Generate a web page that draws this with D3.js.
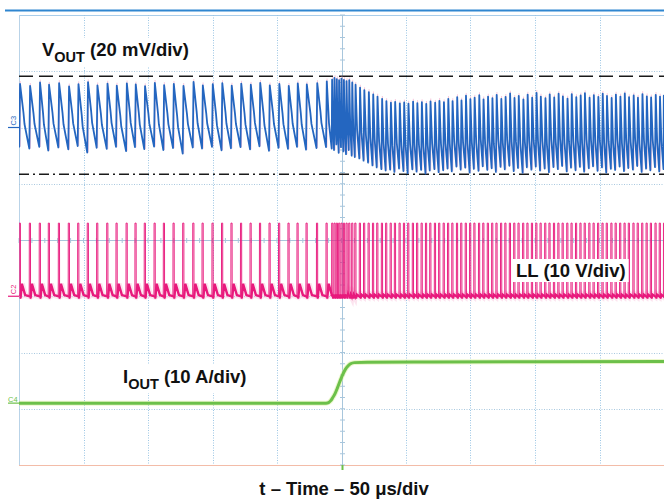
<!DOCTYPE html>
<html><head><meta charset="utf-8">
<script src="https://cdn.jsdelivr.net/npm/d3@7"></script>
<style>
html,body{margin:0;padding:0;background:#fff;}
svg{display:block;font-family:"Liberation Sans",Arial,sans-serif;}
</style></head>
<body>
<svg id="chart" width="664" height="499"></svg>
<script>
// ---------- DATA ----------
// time axis: 10 divisions x 50 us
const timeGridUs = [0, 50, 100, 150, 200, 250, 300, 350, 400, 450, 500];
// vertical axis: 8 divisions
const divGrid = [-4, -3, -2, -1, 0, 1, 2, 3, 4];

// LL switching pulses (us)
const llPulseTimes = [
  0.2, 8.0, 15.7, 22.7, 30.5, 38.2, 45.5, 52.9, 60.2, 68.0,
  75.2, 83.0, 89.9, 97.1, 104.7, 111.9, 119.4, 126.9, 134.7, 141.9,
  149.6, 157.0, 164.3, 171.7, 179.1, 186.4, 193.8, 201.2, 208.5, 215.5,
  222.5, 230.6, 238.0,
  242.4, 244.2, 246.0, 247.8, 249.6, 251.5, 253.5, 255.6, 257.9, 260.3,
  263.8, 267.1, 270.6, 274.0, 277.3, 280.9, 284.2, 287.7, 291.0, 294.6,
  298.0, 301.3, 304.9, 308.2, 311.7, 315.1, 318.4, 322.0, 325.3, 328.8,
  332.2, 335.5, 339.1, 342.4, 345.9, 349.3, 352.6, 356.2, 359.5, 363.0,
  366.4, 369.7, 373.3, 376.6, 380.1, 383.5, 386.8, 390.4, 393.7, 397.2,
  400.6, 403.9, 407.5, 410.8, 414.3, 417.7, 421.0, 424.6, 427.9, 431.4,
  434.8, 438.1, 441.7, 445.0, 448.5, 451.9, 455.2, 458.8, 462.1, 465.6,
  469.0, 472.3, 475.9, 479.2, 482.7, 486.1, 489.4, 493.0, 496.3, 499.6
];
// VOUT ripple per switching cycle (mV, relative to C3 marker)
const voutPeaks = [
  15.5, 14.8, 16.0, 15.2, 15.8, 14.6, 15.4, 16.1, 15.0, 15.6,
  14.9, 15.7, 15.3, 14.7, 15.9, 15.1, 15.5, 14.8, 16.2, 15.0,
  15.4, 15.8, 14.9, 15.6, 15.2, 15.9, 15.0, 15.5, 14.8, 15.7,
  15.3, 15.8, 16.4,
  17.0, 17.6, 17.2, 16.8, 17.4, 16.9, 16.5, 16.8, 16.0, 15.2,
  14.2, 13.3, 12.6, 11.8, 11.0, 10.2, 9.4, 8.8, 9.1, 8.6,
  8.9, 8.5, 9.2, 8.7, 9.0, 8.4, 9.3, 8.8, 9.5, 9.0,
  10.2, 9.4, 10.8, 9.6, 11.3, 10.1, 10.6, 11.5, 10.0, 11.0,
  10.4, 11.6, 10.2, 10.9, 12.1, 10.5, 11.2, 10.0, 11.7, 10.6,
  12.3, 11.0, 10.4, 11.8, 10.7, 12.0, 11.1, 10.3, 11.9, 10.8,
  11.4, 12.2, 10.6, 11.5, 10.9, 12.0, 11.2, 10.5, 11.7, 11.0,
  12.1, 10.8, 11.4, 10.6, 11.9, 11.1, 10.7, 11.6, 11.0, 11.3
];
const voutTroughs = [
  -6.8, -7.5, -6.9, -8.2, -7.1, -7.8, -6.6, -8.9, -7.2, -7.6,
  -6.9, -8.4, -7.0, -7.7, -6.8, -8.0, -7.3, -9.3, -7.1, -7.5,
  -6.9, -8.1, -7.4, -7.0, -7.8, -6.7, -8.3, -7.2, -7.6, -6.9,
  -7.9, -7.3, -7.0,
  -7.5, -8.0, -6.0, -9.0, -7.0, -8.5, -9.5, -8.0, -10.0, -10.5,
  -11.0, -11.8, -12.5, -13.5, -14.2, -14.8, -15.3, -15.0, -15.8, -14.6,
  -15.5, -16.2, -14.9, -15.7, -15.1, -16.4, -15.3, -14.8, -15.9, -15.2,
  -14.6, -15.6, -13.9, -15.0, -14.3, -16.0, -14.7, -15.4, -13.8, -15.1,
  -14.5, -15.8, -14.0, -14.9, -13.6, -15.5, -14.4, -16.1, -14.2, -15.0,
  -13.9, -15.3, -14.6, -15.9, -14.1, -14.8, -13.7, -15.6, -14.3, -15.2,
  -14.0, -15.7, -14.5, -13.8, -15.4, -14.2, -16.0, -14.7, -15.1, -13.9,
  -15.5, -14.4, -15.0, -13.7, -15.8, -14.6, -15.2, -14.1, -15.6, -14.8
];
// VOUT cursor limits (mV)
const voutLimits = [18.2, -16.6];

// LL levels (V)
const llHighV = 13;
const llRingBeforeV = 2.2;
const llRingAfterV = 0.3;
const loadStepUs = 240;

// IOUT load step (us, A)
const ioutTimes = [0, 238, 240, 241.5, 243, 245, 247, 249, 251, 253, 255, 257, 260, 270, 320, 400, 500];
const ioutAmps  = [0, 0, 0.1, 0.4, 0.9, 1.7, 2.8, 4.0, 5.1, 6.0, 6.6, 7.0, 7.2, 7.25, 7.3, 7.35, 7.4];

// channel offsets (divisions) and scales
const chVout = {name: "C3", offsetDiv: 2.0, perDiv: 20, color: "#2466c0"};
const chLL   = {name: "C2", offsetDiv: -1.0, perDiv: 10, color: "#e8197c"};
const chIout = {name: "C4", offsetDiv: -2.9, perDiv: 10, color: "#6cc04a"};

// ---------- DRAW ----------
const svg = d3.select("#chart");
const x = d3.scaleLinear().domain([0, 500]).range([19, 664]);
const y = d3.scaleLinear().domain([-4, 4]).range([465, 15]);
const yCh = (ch, v) => y(ch.offsetDiv + v / ch.perDiv);

const defs = svg.append("defs");
defs.append("clipPath").attr("id", "plot").append("rect")
  .attr("x", x(0)).attr("y", y(4)).attr("width", x(500) - x(0)).attr("height", y(-4) - y(4));

// top header line
svg.append("line").attr("x1", 5).attr("x2", 664).attr("y1", 10.5).attr("y2", 10.5)
  .attr("stroke", "#2f86d0").attr("stroke-width", 2);

const grid = svg.append("g");
grid.append("line").attr("x1", x(0)).attr("x2", x(500)).attr("y1", y(4) + 0.5).attr("y2", y(4) + 0.5)
  .attr("stroke", "#a9cdea").attr("stroke-width", 1);
grid.append("line").attr("x1", x(0) + 0.5).attr("x2", x(0) + 0.5).attr("y1", y(4)).attr("y2", y(-4))
  .attr("stroke", "#b9d3e8").attr("stroke-width", 1);
grid.append("line").attr("x1", x(0)).attr("x2", x(500)).attr("y1", y(-4) + 0.5).attr("y2", y(-4) + 0.5)
  .attr("stroke", "#f3bca8").attr("stroke-width", 1);

grid.selectAll(".vg").data(timeGridUs.filter(t => t > 0 && t < 500 && t !== 250)).enter().append("line")
  .attr("x1", d => Math.round(x(d)) + 0.5).attr("x2", d => Math.round(x(d)) + 0.5)
  .attr("y1", y(4)).attr("y2", y(-4))
  .attr("stroke", "#9cc6e4").attr("stroke-width", 1).attr("stroke-dasharray", "1,1.5");
grid.selectAll(".hg").data(divGrid.filter(d => d > -4 && d < 4 && d !== 0)).enter().append("line")
  .attr("x1", x(0)).attr("x2", x(500))
  .attr("y1", d => Math.round(y(d)) + 0.5).attr("y2", d => Math.round(y(d)) + 0.5)
  .attr("stroke", "#a9c8df").attr("stroke-width", 1).attr("stroke-dasharray", "1,1.5");

const cx = Math.round(x(250)) + 0.5, cy = Math.round(y(0)) + 0.5;
grid.append("line").attr("x1", cx).attr("x2", cx).attr("y1", y(4)).attr("y2", y(-4))
  .attr("stroke", "#a8c6dc").attr("stroke-width", 1);
grid.append("line").attr("x1", x(0)).attr("x2", x(500)).attr("y1", cy).attr("y2", cy)
  .attr("stroke", "#a8c6dc").attr("stroke-width", 1);
const minorY = d3.range(-4, 4.001, 0.2);
grid.selectAll(".ty").data(minorY).enter().append("line")
  .attr("x1", cx - 2.5).attr("x2", cx + 2.5).attr("y1", d => y(d)).attr("y2", d => y(d))
  .attr("stroke", "#a8c6dc").attr("stroke-width", 1);
const minorX = d3.range(0, 500.001, 10);
grid.selectAll(".tx").data(minorX).enter().append("line")
  .attr("x1", d => x(d)).attr("x2", d => x(d)).attr("y1", cy - 2.5).attr("y2", cy + 2.5)
  .attr("stroke", "#a8c6dc").attr("stroke-width", 1);

const plot = svg.append("g").attr("clip-path", "url(#plot)");
const n = Math.min(llPulseTimes.length, voutPeaks.length, voutTroughs.length);

// VOUT cursors
plot.append("line").attr("x1", x(0)).attr("x2", x(500))
  .attr("y1", yCh(chVout, voutLimits[0])).attr("y2", yCh(chVout, voutLimits[0]))
  .attr("stroke", "#1a1a1a").attr("stroke-width", 1.6).attr("stroke-dasharray", "14,6");
plot.append("line").attr("x1", x(0)).attr("x2", x(500))
  .attr("y1", yCh(chVout, voutLimits[1])).attr("y2", yCh(chVout, voutLimits[1]))
  .attr("stroke", "#1a1a1a").attr("stroke-width", 1.6).attr("stroke-dasharray", "10,4,2,4");

// LL coupling ghost on VOUT
plot.selectAll(".ghost").data(d3.range(n)).enter().append("line")
  .attr("x1", i => x(llPulseTimes[i]) + 1).attr("x2", i => x(llPulseTimes[i]) + 1)
  .attr("y1", i => yCh(chVout, voutPeaks[i] + 1)).attr("y2", i => yCh(chVout, voutTroughs[i]))
  .attr("stroke", "#f19ac0").attr("stroke-width", 1).attr("opacity", 0.55);

// VOUT trace
const voutPts = [[0, voutTroughs[0]]];
for (let i = 0; i < n; i++) {
  const t0 = llPulseTimes[i];
  const t1 = i + 1 < n ? llPulseTimes[i + 1] : 501;
  const P = t1 - t0;
  const pk = voutPeaks[i];
  const trN = i + 1 < n ? voutTroughs[i + 1] : voutTroughs[i];
  voutPts.push([t0, voutTroughs[i]]);
  voutPts.push([t0 + Math.min(0.6, 0.18 * P), pk]);
  voutPts.push([t0 + 0.42 * P, pk - 0.45 * (pk - trN)]);
  voutPts.push([t0 + 0.52 * P, pk - 0.62 * (pk - trN)]);
}
const lineV = d3.line().x(d => x(d[0])).y(d => yCh(chVout, d[1]));
plot.append("path").attr("d", lineV(voutPts)).attr("fill", "none")
  .attr("stroke", chVout.color).attr("stroke-width", 1.8).attr("stroke-linejoin", "round");

// LL trace: full (thin) and baseline segments (thick)
const llPts = [[0, 0.2]];
const llBase = [[0, 0.2]];
for (let i = 0; i < llPulseTimes.length; i++) {
  const t0 = llPulseTimes[i];
  const t1 = i + 1 < llPulseTimes.length ? llPulseTimes[i + 1] : 501;
  llPts.push([t0 - 0.05, 0.1], [t0, llHighV], [t0 + 0.9, llHighV], [t0 + 0.95, -0.4]);
  llBase.push([t0 - 0.05, 0.1], null, [t0 + 0.95, -0.4]);
  let tail;
  if (t0 < loadStepUs) tail = [[t0 + 2.0, llRingBeforeV], [t0 + 4.6, 0.2], [t1 - 0.1, 0.0]];
  else tail = [[t0 + 1.6, llRingAfterV], [t1 - 0.1, 0.0]];
  llPts.push(...tail);
  llBase.push(...tail);
}
const lineL = d3.line().defined(d => d !== null).x(d => x(d[0])).y(d => yCh(chLL, d[1]));
plot.append("path").attr("d", lineL(llBase)).attr("fill", "none")
  .attr("stroke", "#f6b3d0").attr("stroke-width", 6).attr("opacity", 0.35);
plot.append("path").attr("d", lineL(llPts)).attr("fill", "none")
  .attr("stroke", chLL.color).attr("stroke-width", 0.95);
plot.append("path").attr("d", lineL(llBase)).attr("fill", "none")
  .attr("stroke", chLL.color).attr("stroke-width", 2.4);

// IOUT trace
const ioutPts = ioutTimes.map((t, i) => [t, ioutAmps[i]]);
const lineI = d3.line().x(d => x(d[0])).y(d => yCh(chIout, d[1])).curve(d3.curveMonotoneX);
plot.append("path").attr("d", lineI(ioutPts)).attr("fill", "none")
  .attr("stroke", "#d9ef9a").attr("stroke-width", 5).attr("opacity", 0.5);
plot.append("path").attr("d", lineI(ioutPts)).attr("fill", "none")
  .attr("stroke", chIout.color).attr("stroke-width", 3);

// channel markers
function marker(ch, rotate) {
  const yy = yCh(ch, 0);
  const g = svg.append("g").attr("fill", ch.color);
  svg.append("line").attr("x1", 8).attr("x2", x(0)).attr("y1", yy).attr("y2", yy)
    .attr("stroke", ch.color).attr("stroke-width", 1.2);
  if (rotate) {
    g.append("text").attr("transform", `translate(16,${yy - 2}) rotate(-90)`)
      .attr("font-size", 7.5).text(ch.name);
  } else {
    g.append("text").attr("x", 8).attr("y", yy - 1).attr("font-size", 7.5).text(ch.name);
  }
}
marker(chVout, true);
marker(chLL, true);
marker(chIout, false);

// trigger marker
svg.append("line").attr("x1", cx).attr("x2", cx).attr("y1", y(-4)).attr("y2", y(-4) + 5)
  .attr("stroke", chIout.color).attr("stroke-width", 2);

// labels with white boxes
function label(xp, yp, main, sub, rest) {
  const g = svg.append("g");
  const bg = g.append("rect").attr("fill", "#fff");
  const t = g.append("text").attr("x", xp).attr("y", yp).attr("font-size", 18.5)
    .attr("font-weight", "bold").attr("fill", "#111");
  t.append("tspan").text(main);
  if (sub) {
    t.append("tspan").attr("font-size", 14.5).attr("dy", 6).text(sub);
    t.append("tspan").attr("dy", -6).text(rest);
  }
  const b = t.node().getBBox();
  bg.attr("x", b.x - 3).attr("y", b.y - 1).attr("width", b.width + 6).attr("height", b.height + 2);
}
label(42, 56, "V", "OUT", " (20 mV/div)");
label(516, 277, "LL (10 V/div)");
label(123, 383, "I", "OUT", " (10 A/div)");

svg.append("text").attr("x", 344).attr("y", 495).attr("text-anchor", "middle")
  .attr("font-size", 18.5).attr("font-weight", "bold").attr("fill", "#111")
  .text("t – Time – 50 μs/div");
</script>
</body></html>
